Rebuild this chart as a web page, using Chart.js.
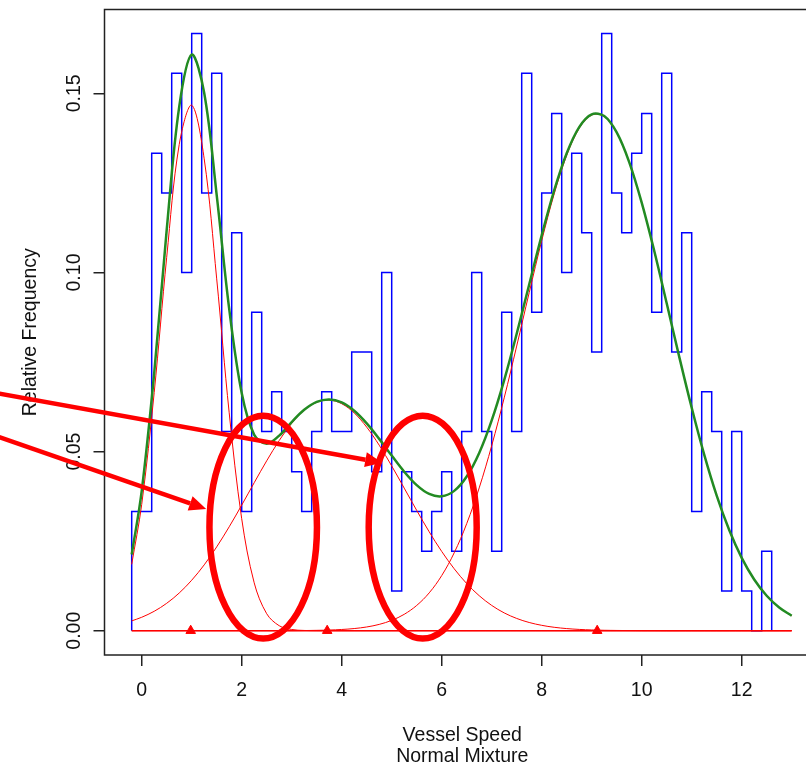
<!DOCTYPE html>
<html>
<head>
<meta charset="utf-8">
<title>Vessel Speed - Normal Mixture</title>
<script src="https://cdn.jsdelivr.net/npm/chart.js@4.4.1/dist/chart.umd.min.js"></script>
<style>
  html, body { margin: 0; padding: 0; overflow: hidden; background: #fff; }
  #wrap { position: relative; width: 820px; height: 767px; }
</style>
</head>
<body>
<div id="wrap"><canvas id="mixChart"></canvas></div>
<script>
// histogram bins (edges) and relative frequency per bin
const binEdges = [
  -0.2, 0.0, 0.2, 0.4, 0.6, 0.8, 1.0, 1.2, 1.4, 1.6, 1.8, 2.0, 2.2, 2.4, 2.6, 2.8,
  3.0, 3.2, 3.4, 3.6, 3.8, 4.0, 4.2, 4.4, 4.6, 4.8, 5.0, 5.2, 5.4, 5.6, 5.8, 6.0,
  6.2, 6.4, 6.6, 6.8, 7.0, 7.2, 7.4, 7.6, 7.8, 8.0, 8.2, 8.4, 8.6, 8.8, 9.0, 9.2,
  9.4, 9.6, 9.8, 10.0, 10.2, 10.4, 10.6, 10.8, 11.0, 11.2, 11.4, 11.6, 11.8, 12.0,
  12.2, 12.4, 12.6
];
const relFreq = [
  0.0333, 0.0333, 0.1333, 0.1222, 0.1556, 0.1000, 0.1667, 0.1222, 0.1556, 0.0556,
  0.1111, 0.0333, 0.0889, 0.0556, 0.0667, 0.0556, 0.0444, 0.0333, 0.0556, 0.0667,
  0.0556, 0.0556, 0.0778, 0.0778, 0.0444, 0.1000, 0.0111, 0.0444, 0.0333, 0.0222,
  0.0333, 0.0444, 0.0222, 0.0556, 0.1000, 0.0556, 0.0222, 0.0889, 0.0556, 0.1556,
  0.0889, 0.1222, 0.1444, 0.1000, 0.1333, 0.1111, 0.0778, 0.1667, 0.1222, 0.1111,
  0.1333, 0.1444, 0.0889, 0.1556, 0.0778, 0.1111, 0.0333, 0.0667, 0.0556, 0.0111,
  0.0556, 0.0111, 0, 0.0222
];

// fitted curves, read along the x axis
const curveX = [
  -0.2, 0, 0.25, 0.5, 0.75, 1, 1.25, 1.5, 1.75, 2, 2.25, 2.5, 2.75, 3, 3.25, 3.5,
  3.75, 4, 4.25, 4.5, 4.75, 5, 5.25, 5.5, 5.75, 6, 6.25, 6.5, 6.75, 7, 7.25, 7.5,
  7.75, 8, 8.25, 8.5, 8.75, 9, 9.25, 9.5, 9.75, 10, 10.25, 10.5, 10.75, 11, 11.25,
  11.5, 11.75, 12, 12.25, 12.5, 12.75, 13
];
const comp1 = [
  0.01852, 0.03522, 0.06648, 0.10424, 0.13570, 0.14671, 0.13172, 0.09822, 0.06082,
  0.03127, 0.01336, 0.00474, 0.00139, 0.00034, 0.00007, 0.00001,
  0, 0, 0, 0, 0, 0, 0, 0, 0, 0, 0, 0, 0, 0, 0, 0, 0, 0, 0, 0, 0, 0, 0,
  0, 0, 0, 0, 0, 0, 0, 0, 0, 0, 0, 0, 0, 0, 0
];
const comp2 = [
  0.00274, 0.00375, 0.00542, 0.00765, 0.01052, 0.01409, 0.01838, 0.02340, 0.02901,
  0.03506, 0.04131, 0.04743, 0.05308, 0.05789, 0.06154, 0.06376, 0.06439, 0.06337,
  0.06079, 0.05683, 0.05179, 0.04600, 0.03981, 0.03359, 0.02761, 0.02213, 0.01729,
  0.01316, 0.00977, 0.00706, 0.00497, 0.00342, 0.00229, 0.00150, 0.00095, 0.00059,
  0.00036, 0.00021, 0.00012, 0.00007, 0.00004, 0.00002, 0.00001,
  0, 0, 0, 0, 0, 0, 0, 0, 0, 0, 0
];
const comp3 = [
  0, 0, 0, 0, 0, 0, 0, 0, 0, 0, 0, 0, 0,
  0.00002, 0.00005, 0.00010, 0.00018, 0.00034, 0.00060, 0.00104, 0.00176, 0.00288,
  0.00457, 0.00705, 0.01056, 0.01538, 0.02174, 0.02988, 0.03986, 0.05165, 0.06500,
  0.07947, 0.09437, 0.10885, 0.12195, 0.13269, 0.14024, 0.14396, 0.14354, 0.13902,
  0.13078, 0.11948, 0.10604, 0.09140, 0.07652, 0.06223, 0.04915, 0.03771, 0.02810,
  0.02033, 0.01430, 0.00976, 0.00648, 0.00417
];
const mixture = [
  0.02126, 0.03897, 0.07190, 0.11189, 0.14622, 0.16080, 0.15010, 0.12162, 0.08983,
  0.06633, 0.05467, 0.05217, 0.05447, 0.05825, 0.06166, 0.06387, 0.06457, 0.06371,
  0.06139, 0.05787, 0.05355, 0.04888, 0.04438, 0.04064, 0.03817, 0.03751, 0.03903,
  0.04304, 0.04963, 0.05871, 0.06997, 0.08289, 0.09666, 0.11035, 0.12290, 0.13328,
  0.14060, 0.14417, 0.14366, 0.13909, 0.13082, 0.11950, 0.10605, 0.09140, 0.07652,
  0.06223, 0.04915, 0.03771, 0.02810, 0.02033, 0.01430, 0.00976, 0.00648, 0.00417
];
const compMeans = [0.98, 3.71, 9.11];

const xTicks = [0, 2, 4, 6, 8, 10, 12];
const yTicks = [0, 0.05, 0.10, 0.15];

// hand drawn marks on top (data units)
const ellipses = [
  { cx: 2.43, cy: 0.0289, rx: 1.075, ry: 0.0311 },
  { cx: 5.62, cy: 0.0289, rx: 1.08, ry: 0.0311 },
];
const arrows = [
  { x0: -2.9, y0: 0.0663, x1: 4.81, y1: 0.0469 },
  { x0: -2.9, y0: 0.0543, x1: 1.29, y1: 0.0340 },
];

const FONT = "'Liberation Sans', Arial, sans-serif";
const INK = "#111";

// step outline of the histogram
const histPoints = [];
binEdges.forEach((e, i) => {
  const before = i === 0 ? 0 : relFreq[i - 1];
  const after = i < relFreq.length ? relFreq[i] : 0;
  histPoints.push({ x: e, y: before });
  histPoints.push({ x: e, y: after });
});

const toPts = (ys) => curveX.map((x, i) => ({ x: x, y: ys[i] }));

// box, rotated y labels, ellipses and arrows
const rPlotExtras = {
  id: "rPlotExtras",
  afterDatasetsDraw(chart) {
    const { ctx, chartArea, scales } = chart;
    const xs = scales.x;
    const ys = scales.y;
    ctx.save();

    ctx.strokeStyle = "#222";
    ctx.lineWidth = 1.5;
    ctx.strokeRect(chartArea.left, chartArea.top,
      chartArea.right - chartArea.left, chartArea.bottom - chartArea.top);

    ctx.fillStyle = INK;
    ctx.font = "19.5px " + FONT;
    ctx.textAlign = "center";
    ctx.textBaseline = "middle";
    ys.ticks.forEach((t) => {
      ctx.save();
      ctx.translate(chartArea.left - 30, ys.getPixelForValue(t.value));
      ctx.rotate(-Math.PI / 2);
      ctx.fillText(t.label, 0, 0);
      ctx.restore();
    });

    ctx.strokeStyle = "#ff0000";
    ctx.fillStyle = "#ff0000";
    ctx.lineWidth = 6.5;
    ellipses.forEach((e) => {
      const px = xs.getPixelForValue(e.cx);
      const py = ys.getPixelForValue(e.cy);
      const rx = Math.abs(xs.getPixelForValue(e.cx + e.rx) - px);
      const ry = Math.abs(ys.getPixelForValue(e.cy + e.ry) - py);
      ctx.beginPath();
      ctx.ellipse(px, py, rx, ry, 0, 0, Math.PI * 2);
      ctx.stroke();
    });

    ctx.lineWidth = 4.5;
    arrows.forEach((a) => {
      const x0 = xs.getPixelForValue(a.x0), y0 = ys.getPixelForValue(a.y0);
      const x1 = xs.getPixelForValue(a.x1), y1 = ys.getPixelForValue(a.y1);
      const ang = Math.atan2(y1 - y0, x1 - x0);
      const headLen = 17, headW = 7.5;
      const bx = x1 - headLen * Math.cos(ang);
      const by = y1 - headLen * Math.sin(ang);
      ctx.beginPath();
      ctx.moveTo(x0, y0);
      ctx.lineTo(bx, by);
      ctx.stroke();
      ctx.beginPath();
      ctx.moveTo(x1, y1);
      ctx.lineTo(bx + headW * Math.sin(ang), by - headW * Math.cos(ang));
      ctx.lineTo(bx - headW * Math.sin(ang), by + headW * Math.cos(ang));
      ctx.closePath();
      ctx.fill();
    });

    ctx.restore();
  },
};

const ctx = document.getElementById("mixChart").getContext("2d");
const mixChart = new Chart(ctx, {
  type: "line",
  data: {
    datasets: [
      {
        label: "histogram",
        data: histPoints,
        borderColor: "#0000ff",
        borderWidth: 1.5,
        pointRadius: 0,
        tension: 0,
        order: 6,
      },
      {
        label: "baseline",
        data: [{ x: curveX[0], y: 0 }, { x: curveX[curveX.length - 1], y: 0 }],
        borderColor: "#ff0000",
        borderWidth: 1.5,
        pointRadius: 0,
        order: 5,
      },
      {
        label: "component 1",
        data: toPts(comp1),
        borderColor: "#ff0000",
        borderWidth: 1,
        pointRadius: 0,
        tension: 0.35,
        order: 4,
      },
      {
        label: "component 2",
        data: toPts(comp2),
        borderColor: "#ff0000",
        borderWidth: 1,
        pointRadius: 0,
        tension: 0.35,
        order: 4,
      },
      {
        label: "component 3",
        data: toPts(comp3),
        borderColor: "#ff0000",
        borderWidth: 1,
        pointRadius: 0,
        tension: 0.35,
        order: 4,
      },
      {
        label: "mixture",
        data: toPts(mixture),
        borderColor: "#228b22",
        borderWidth: 2.5,
        pointRadius: 0,
        tension: 0.35,
        order: 2,
      },
      {
        label: "means",
        data: compMeans.map((m) => ({ x: m, y: 0 })),
        showLine: false,
        pointStyle: "triangle",
        pointRadius: 5.5,
        backgroundColor: "#ff0000",
        borderColor: "#ff0000",
        borderWidth: 1,
        clip: false,
        order: 1,
      },
    ],
  },
  options: {
    responsive: true,
    maintainAspectRatio: false,
    animation: false,
    events: [],
    layout: {
      autoPadding: false,
      padding: { top: 9.5, left: 0, right: 0, bottom: 0 },
    },
    plugins: {
      legend: { display: false },
      tooltip: { enabled: false },
    },
    scales: {
      x: {
        type: "linear",
        min: -0.744,
        max: 13.566,
        afterBuildTicks: (s) => { s.ticks = xTicks.map((v) => ({ value: v })); },
        afterFit: (s) => {
          s.height = 112;
          s.paddingLeft = 0;
          s.paddingRight = 0;
        },
        border: { display: false },
        grid: {
          drawOnChartArea: false,
          drawTicks: true,
          tickLength: 11,
          color: "#222",
          lineWidth: 1.5,
        },
        ticks: {
          color: INK,
          font: { family: FONT, size: 19.5 },
          padding: 13,
          maxRotation: 0,
          autoSkip: false,
        },
        title: {
          display: true,
          text: ["Vessel Speed", "Normal Mixture"],
          color: INK,
          font: { family: FONT, size: 19.5, lineHeight: "21px" },
          padding: 0,
        },
      },
      y: {
        type: "linear",
        min: -0.006784,
        max: 0.17342,
        afterBuildTicks: (s) => { s.ticks = yTicks.map((v) => ({ value: v })); },
        afterFit: (s) => {
          s.width = 104.5;
          s.paddingTop = 0;
          s.paddingBottom = 0;
        },
        border: { display: false },
        grid: {
          drawOnChartArea: false,
          drawTicks: true,
          tickLength: 11,
          color: "#222",
          lineWidth: 1.5,
        },
        ticks: {
          display: false,
          callback: (v) => Number(v).toFixed(2),
        },
        title: {
          display: true,
          text: "Relative Frequency",
          color: INK,
          font: { family: FONT, size: 19.5 },
          padding: { top: 19.3, bottom: 0 },
        },
      },
    },
  },
  plugins: [rPlotExtras],
});
</script>
</body>
</html>
